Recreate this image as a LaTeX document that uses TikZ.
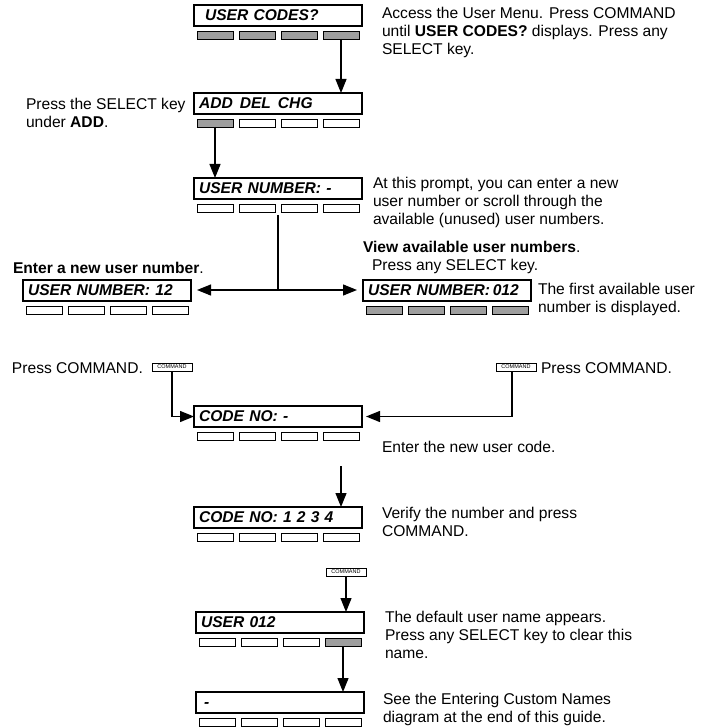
\documentclass[tikz,border=0pt]{standalone}
\usepackage{fontspec}
\setmainfont{Liberation Sans}
\usetikzlibrary{arrows.meta}
\newcommand\lcdkeys[5]{%
  \node[#2] (#1k1) at ([xshift=3pt,yshift=-5pt]#1.south west) {};
  \node[#3] (#1k2) at ([xshift=45pt,yshift=-5pt]#1.south west) {};
  \node[#4] (#1k3) at ([xshift=87pt,yshift=-5pt]#1.south west) {};
  \node[#5] (#1k4) at ([xshift=129pt,yshift=-5pt]#1.south west) {};
}
\begin{document}
\begin{tikzpicture}[x=1pt,y=-1pt,
  every node/.style={inner sep=0pt, outer sep=0pt},
  lcd/.style={draw, line width=1.2pt, minimum width=168pt, minimum height=21pt,
    text width=158pt, align=left, inner xsep=5pt, anchor=north west,
    font=\fontsize{15.6}{18}\selectfont\bfseries\itshape,
    execute at begin node=\vphantom{X}},
  keyw/.style={draw, line width=0.7pt, minimum width=36pt, minimum height=8pt,
    anchor=north west, fill=white},
  keyg/.style={keyw, fill=black!38},
  cmdkey/.style={draw, line width=0.6pt, minimum width=40pt, minimum height=8pt,
    font=\fontsize{5.5}{5.5}\selectfont, anchor=north west},
  txt/.style={anchor=north west, align=left, font=\fontsize{15.6}{18}\selectfont},
  arr/.style={line width=1.2pt, -{Triangle[length=14pt,width=11pt]}},
  ln/.style={line width=1.2pt}
]
\useasboundingbox (0,0) rectangle (712,727);

% displays
\node[lcd] (b1) at (194,5) {\hspace*{6pt}USER CODES?};
\lcdkeys{b1}{keyg}{keyg}{keyg}{keyg}
\node[lcd] (b2) at (194,93) {ADD\hspace{7pt}DEL\hspace{7pt}CHG};
\lcdkeys{b2}{keyg}{keyw}{keyw}{keyw}
\node[lcd] (b3) at (194,178) {USER NUMBER: -};
\lcdkeys{b3}{keyw}{keyw}{keyw}{keyw}
\node[lcd] (b4) at (23,280) {USER NUMBER: 12};
\lcdkeys{b4}{keyw}{keyw}{keyw}{keyw}
\node[lcd] (b5) at (363,280) {USER NUMBER:\,012};
\lcdkeys{b5}{keyg}{keyg}{keyg}{keyg}
\node[lcd] (b6) at (194,406) {CODE NO: -};
\lcdkeys{b6}{keyw}{keyw}{keyw}{keyw}
\node[lcd] (b7) at (194,507) {CODE NO: 1 2 3 4};
\lcdkeys{b7}{keyw}{keyw}{keyw}{keyw}
\node[lcd] (b8) at (196,612) {USER 012};
\lcdkeys{b8}{keyw}{keyw}{keyw}{keyg}
\node[lcd] (b9) at (196,692) {\hspace*{3pt}-};
\lcdkeys{b9}{keyw}{keyw}{keyw}{keyw}

% command keys
\node[cmdkey] (cL) at (152,363) {COMMAND};
\node[cmdkey] (cR) at (496,363) {COMMAND};
\node[cmdkey] (cM) at (326,568) {COMMAND};

% texts
\node[txt] (t1) at (382,7.5) {Access the User Menu. Press COMMAND\\until \textbf{USER CODES?} displays. Press any\\SELECT key.};
\node[txt] (t2) at (26,98.5) {Press the SELECT key\\under \textbf{ADD}.};
\node[txt] (t3) at (373,177.5) {At this prompt, you can enter a new\\user number or scroll through the\\available (unused) user numbers.};
\node[txt] (t4) at (13,262.5) {\textbf{Enter a new user number}.};
\node[txt] (t5) at (363,241.5) {\textbf{View available user numbers}.};
\node[txt] (t6) at (372,259.5) {Press any SELECT key.};
\node[txt] (t7) at (538,283.5) {The first available user\\number is displayed.};
\node[txt] (t8) at (12,362.5) {Press COMMAND.};
\node[txt] (t9) at (541,362.5) {Press COMMAND.};
\node[txt] (t10) at (382,441.5) {Enter the new user code.};
\node[txt] (t11) at (382,507.5) {Verify the number and press\\COMMAND.};
\node[txt] (t12) at (385,611.5) {The default user name appears.\\Press any SELECT key to clear this\\name.};
\node[txt] (t13) at (383,693.5) {See the Entering Custom Names\\diagram at the end of this guide.};

% connectors
\draw[arr] (b1k4.south) -- (b1k4.south |- b2.north);
\draw[arr] (b2k1.south) -- (b2k1.south |- b3.north);
\coordinate (s3) at (278,215);
\coordinate (j) at (278,290);
\draw[ln] (s3) -- (j);
\draw[arr, shorten >=6pt] (j) -- (j -| b4.east);
\draw[arr, shorten >=6pt] (j) -- (j -| b5.west);
\draw[arr] (cL.south) |- (b6.west);
\draw[arr, shorten >=4pt] ([xshift=-4pt]cR.south) |- (b6.east);
\coordinate (s6) at (b7k4.north |- 0,466);
\draw[arr] (s6) -- (s6 |- b7.north);
\draw[arr] (cM.south) -- (cM.south |- b8.north);
\draw[arr] (b8k4.south) -- (b8k4.south |- b9.north);
\end{tikzpicture}
\end{document}
